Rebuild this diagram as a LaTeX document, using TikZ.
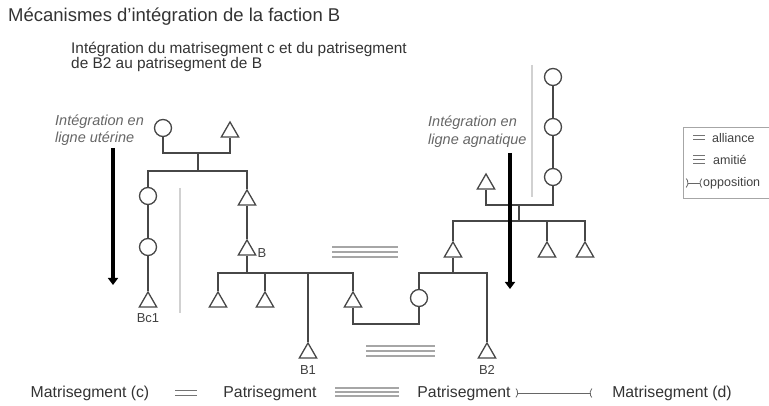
\documentclass[tikz,border=0pt]{standalone}
\usepackage{fontspec}
\setmainfont{Liberation Sans}
\usetikzlibrary{shapes.geometric,arrows.meta}
\begin{document}
\begin{tikzpicture}[x=1pt,y=-1pt,
 kin/.style={draw=black!72,line width=1.3pt},
 fem/.style={circle,draw=black!72,line width=1.3pt,minimum size=17pt,inner sep=0pt,fill=white},
 mal/.style={regular polygon,regular polygon sides=3,draw=black!72,line width=1.3pt,minimum size=20pt,inner sep=0pt,fill=white},
 lbl/.style={font=\fontsize{13}{15}\selectfont,text=black!75,inner sep=0pt},
 note/.style={font=\fontsize{14.5}{16}\selectfont\itshape,text=black!60,inner sep=0pt,anchor=west},
 txt/.style={font=\fontsize{15.8}{18}\selectfont,text=black!80,inner sep=0pt},
 legtxt/.style={font=\fontsize{12.5}{14}\selectfont,text=black!75,inner sep=0pt,anchor=west},
 intarrow/.style={line width=4pt,-{Triangle[length=7pt,width=10pt]}},
 sep/.style={draw=black!18,line width=1.5pt},
 amity/.style={draw=black!35,line width=1.6pt},
 ally/.style={draw=black!55,line width=1pt},
 opp/.style={draw=black!60,line width=0.8pt,{Parenthesis[reversed,length=4pt,width=11pt]}-{Parenthesis[reversed,length=4pt,width=11pt]}},
]
\useasboundingbox (0,0) rectangle (769,406);

% titles
\node[anchor=west,font=\fontsize{18.5}{20}\selectfont,text=black!80,inner sep=0pt] (title) at (8,17) {Mécanismes d'intégration de la faction B};
\node[anchor=west,font=\fontsize{15.4}{17}\selectfont,text=black!80,inner sep=0pt] (sub1) at (71,49) {Intégration du matrisegment c et du patrisegment};
\node[anchor=west,font=\fontsize{15.4}{17}\selectfont,text=black!80,inner sep=0pt] (sub2) at (71,65) {de B2 au patrisegment de B};

% separators
\coordinate (sepA1) at (180,188); \coordinate (sepA2) at (180,313);
\coordinate (sepB1) at (532,65); \coordinate (sepB2) at (532,197);
\draw[sep] (sepA1) -- (sepA2);
\draw[sep] (sepB1) -- (sepB2);

% left family
\node[fem] (gm) at (163,128) {};
\node[mal] (gf) at (230,132) {};
\coordinate (m1) at (198,153);
\coordinate (s1) at (198,171);
\node[fem] (c1) at (148,196) {};
\node[fem] (c2) at (148,247) {};
\node[mal] (bc1) at (148,302) {};
\node[lbl] (bc1l) at (148,318) {Bc1};
\node[mal] (b0) at (247,200) {};
\node[mal] (bb) at (247,250) {};
\node[lbl] (bbl) at (262,253) {B};
\coordinate (s2) at (247,273);
\node[mal] (t1) at (218,302) {};
\node[mal] (t2) at (265,302) {};
\node[mal] (b1) at (308,353) {};
\node[lbl] (b1l) at (308,370) {B1};
\node[mal] (t3) at (353,302) {};
\node[fem] (w) at (419,298) {};
\coordinate (m2) at (386,324);

% right family
\node[mal] (f2) at (453,252) {};
\coordinate (s3) at (453,273);
\node[mal] (b2) at (487,353) {};
\node[lbl] (b2l) at (487,370) {B2};
\coordinate (s4) at (519,221);
\node[mal] (t4) at (547,252) {};
\node[mal] (t5) at (585,252) {};
\coordinate (m3) at (519,205);
\node[mal] (h) at (486,184) {};
\node[fem] (r3) at (553,177) {};
\node[fem] (r2) at (553,127) {};
\node[fem] (r1) at (553,77) {};

% kinship lines
\draw[kin] (gm.south) |- (m1) -| (gf.south);
\draw[kin] (m1) -- (s1);
\draw[kin] (c1.north) |- (s1) -| (b0.north);
\draw[kin] (c1.south) -- (c2.north);
\draw[kin] (c2.south) -- (bc1.north);
\draw[kin] (b0.south) -- (bb.north);
\draw[kin] (bb.south) -- (s2);
\draw[kin] (t1.north) |- (s2) -| (t3.north);
\draw[kin] (t2.north) -- (t2.north |- s2);
\draw[kin] (b1.north) -- (b1.north |- s2);
\draw[kin] (t3.south) |- (m2) -| (w.south);
\draw[kin] (w.north) |- (s3) -| (b2.north);
\draw[kin] (f2.south) -- (s3);
\draw[kin] (f2.north) |- (s4) -| (t5.north);
\draw[kin] (t4.north) -- (t4.north |- s4);
\draw[kin] (s4) -- (m3);
\draw[kin] (h.south) |- (m3) -| (r3.south);
\draw[kin] (r3.north) -- (r2.south);
\draw[kin] (r2.north) -- (r1.south);

% amity marks in the diagram
\foreach \yy in {247,252,257} \draw[amity] (332,\yy) -- (398,\yy);
\foreach \yy in {346,351,356} \draw[amity] (366,\yy) -- (435,\yy);

% integration arrows and notes
\node[note] (nl1) at (55,122) {Intégration en};
\node[note] (nl2) at (55,139) {ligne utérine};
\node[note] (nr1) at (428,123) {Intégration en};
\node[note] (nr2) at (428,141) {ligne agnatique};
\coordinate (la1) at (113,148); \coordinate (la2) at (113,285);
\coordinate (ra1) at (510,153); \coordinate (ra2) at (510,289);
\draw[intarrow] (la1) -- (la2);
\draw[intarrow] (ra1) -- (ra2);

% legend
\draw[draw=black!35,line width=0.8pt] (683,127) rectangle (790,198);
\foreach \yy in {136,140} \draw[ally] (693,\yy) -- (705,\yy);
\foreach \yy in {156,160,164} \draw[ally] (693,\yy) -- (705,\yy);
\node[legtxt] (la) at (712,138) {alliance};
\node[legtxt] (lm) at (713,160) {amitié};
\node[legtxt] (lo) at (703,183) {opposition};
\coordinate (lo0) at (686,183);
\draw[opp] (lo0) -- ([xshift=-1pt]lo.west);

% bottom row
\node[txt] (bm1) at (90,393) {Matrisegment (c)};
\node[txt] (bp1) at (270,393) {Patrisegment};
\node[txt] (bp2) at (464,393) {Patrisegment};
\node[txt] (bm2) at (672,393) {Matrisegment (d)};
\foreach \yy in {390,395} \draw[ally] (175,\yy) -- (197,\yy);
\foreach \yy in {388,392,396} \draw[amity,line width=2pt] (335,\yy) -- (399,\yy);
\draw[opp] ([xshift=5pt]bp2.east) -- ([xshift=-20pt]bm2.west);
\end{tikzpicture}
\end{document}
